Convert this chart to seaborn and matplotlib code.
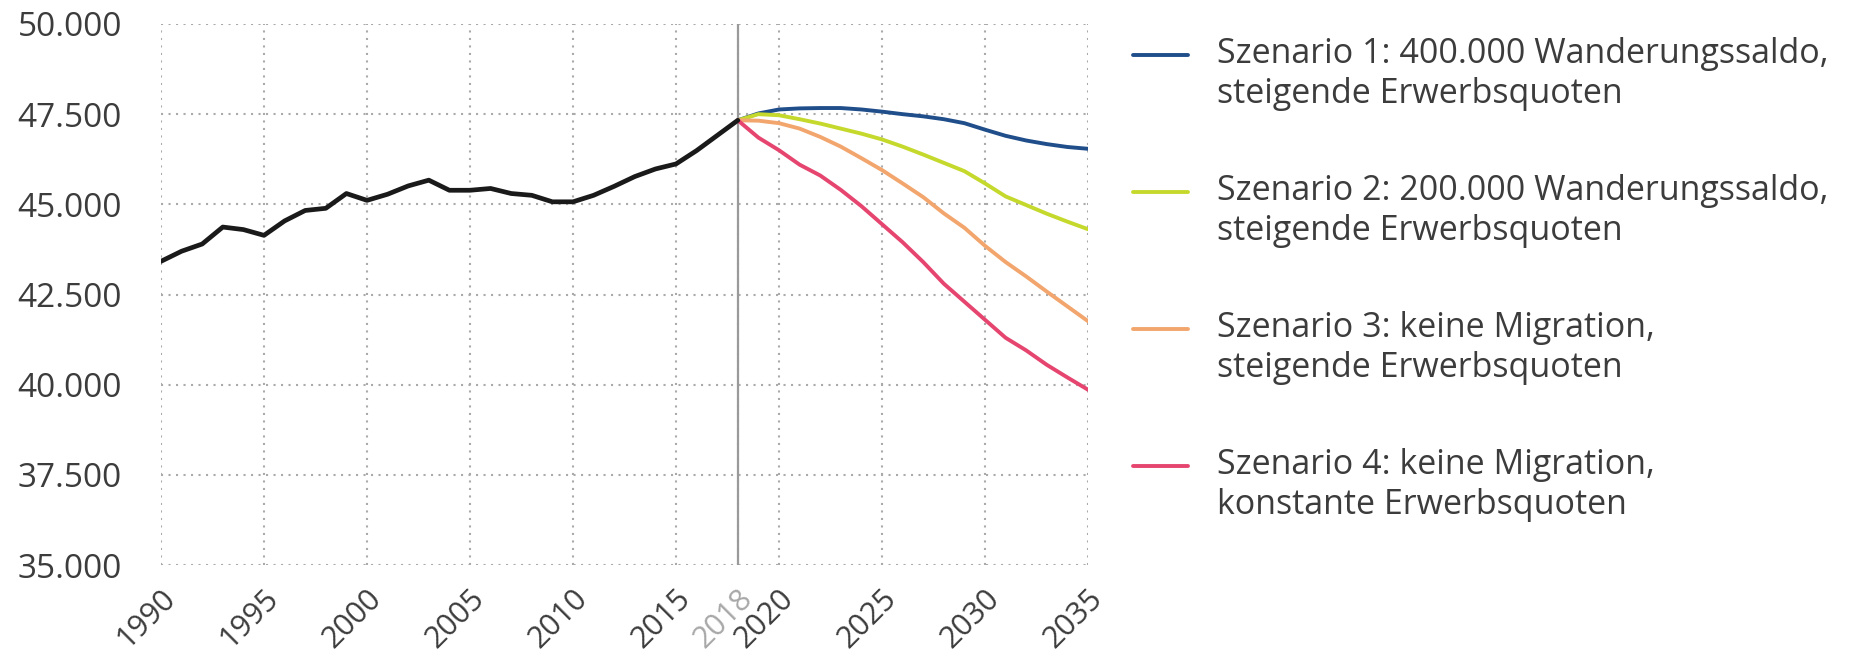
import matplotlib
matplotlib.use("Agg")
import matplotlib.pyplot as plt
from matplotlib.lines import Line2D
from matplotlib.ticker import FuncFormatter
from matplotlib.transforms import ScaledTranslation
import seaborn as sns

# Erwerbspersonen (in Tausend), historisch 1990-2018
years_hist = list(range(1990, 2019))
erwerbspersonen = [43420, 43700, 43900, 44370, 44300, 44140, 44540, 44830, 44890, 45300,
                   45110, 45280, 45510, 45670, 45390, 45390, 45440, 45300, 45250, 45070,
                   45070, 45250, 45500, 45770, 45980, 46120, 46490, 46910, 47330]

# Projektionen 2018-2035
years_proj = list(range(2018, 2036))
szenario_1 = [47330, 47520, 47630, 47660, 47670, 47670, 47630, 47570, 47500,
              47440, 47360, 47250, 47070, 46900, 46770, 46670, 46590, 46540]
szenario_2 = [47330, 47500, 47470, 47360, 47240, 47100, 46960, 46800, 46600,
              46380, 46150, 45920, 45580, 45220, 44980, 44740, 44520, 44310]
szenario_3 = [47330, 47320, 47250, 47100, 46870, 46600, 46280, 45950, 45580,
              45200, 44750, 44350, 43850, 43400, 43000, 42580, 42170, 41760]
szenario_4 = [47330, 46850, 46500, 46100, 45800, 45400, 44950, 44450, 43950,
              43400, 42800, 42300, 41800, 41300, 40950, 40550, 40200, 39860]

szenarien = [szenario_1, szenario_2, szenario_3, szenario_4]
legend_labels = [
    "Szenario 1: 400.000 Wanderungssaldo,\nsteigende Erwerbsquoten",
    "Szenario 2: 200.000 Wanderungssaldo,\nsteigende Erwerbsquoten",
    "Szenario 3: keine Migration,\nsteigende Erwerbsquoten",
    "Szenario 4: keine Migration,\nkonstante Erwerbsquoten",
]
colors = ["#1f4e8a", "#c5d92d", "#f2a66e", "#e5456f"]

x_ticks = [1990, 1995, 2000, 2005, 2010, 2015, 2018, 2020, 2025, 2030, 2035]
y_ticks = list(range(35000, 50001, 2500))

sns.set_style("white")
plt.rcParams['font.family'] = ['Open Sans', 'DejaVu Sans']
text_color = '#3c3c3c'

W, H = 1850, 657
fig = plt.figure(figsize=(W / 100, H / 100), dpi=100)
ax = fig.add_axes([161 / W, 1 - 565 / H, (1088 - 161) / W, (565 - 24) / H])

ax.axvline(2018, color='#9a9a9a', linewidth=1.6, zorder=2)
sns.lineplot(x=years_hist, y=erwerbspersonen, color='#1a1a1a', linewidth=3.4, ax=ax, zorder=4)
for werte, col in zip(szenarien, colors):
    sns.lineplot(x=years_proj, y=werte, color=col, linewidth=2.8, ax=ax, zorder=3)

ax.set_xlim(1990, 2035)
ax.set_ylim(35000, 50000)
ax.set_xticks(x_ticks)
ax.set_yticks(y_ticks)
ax.yaxis.set_major_formatter(FuncFormatter(lambda v, p: f"{v:,.0f}".replace(',', '.')))
ax.set_xlabel('')
ax.set_ylabel('')

ax.grid(True, color='#aaaaaa', linewidth=1.5, linestyle=(0, (1, 2.6)))
ax.set_axisbelow(True)
for s in ax.spines.values():
    s.set_visible(False)

ax.tick_params(axis='both', length=0, labelcolor=text_color)
ax.tick_params(axis='y', pad=28, labelsize=24)
ax.tick_params(axis='x', pad=21, labelsize=22)
versatz = ScaledTranslation(10 / 100, 0, fig.dpi_scale_trans)
for lab in ax.get_xticklabels():
    lab.set_rotation(45)
    lab.set_ha('right')
    lab.set_va('center')
    lab.set_rotation_mode('anchor')
    lab.set_transform(lab.get_transform() + versatz)
    if lab.get_text() == '2018':
        lab.set_color('#a8a8a8')

# Legende rechts
for i, (label, col) in enumerate(zip(legend_labels, colors)):
    y_h = 55 + 137 * i
    fig.add_artist(Line2D([1133 / W, 1188 / W], [1 - y_h / H] * 2,
                          transform=fig.transFigure, color=col, linewidth=2.8))
    zeile1, zeile2 = label.split('\n')
    fig.text(1217 / W, 1 - (y_h + 8) / H, zeile1, fontsize=24.5, color=text_color, va='baseline')
    fig.text(1217 / W, 1 - (y_h + 48) / H, zeile2, fontsize=24.5, color=text_color, va='baseline')

fig.savefig('out.png', dpi=100)
